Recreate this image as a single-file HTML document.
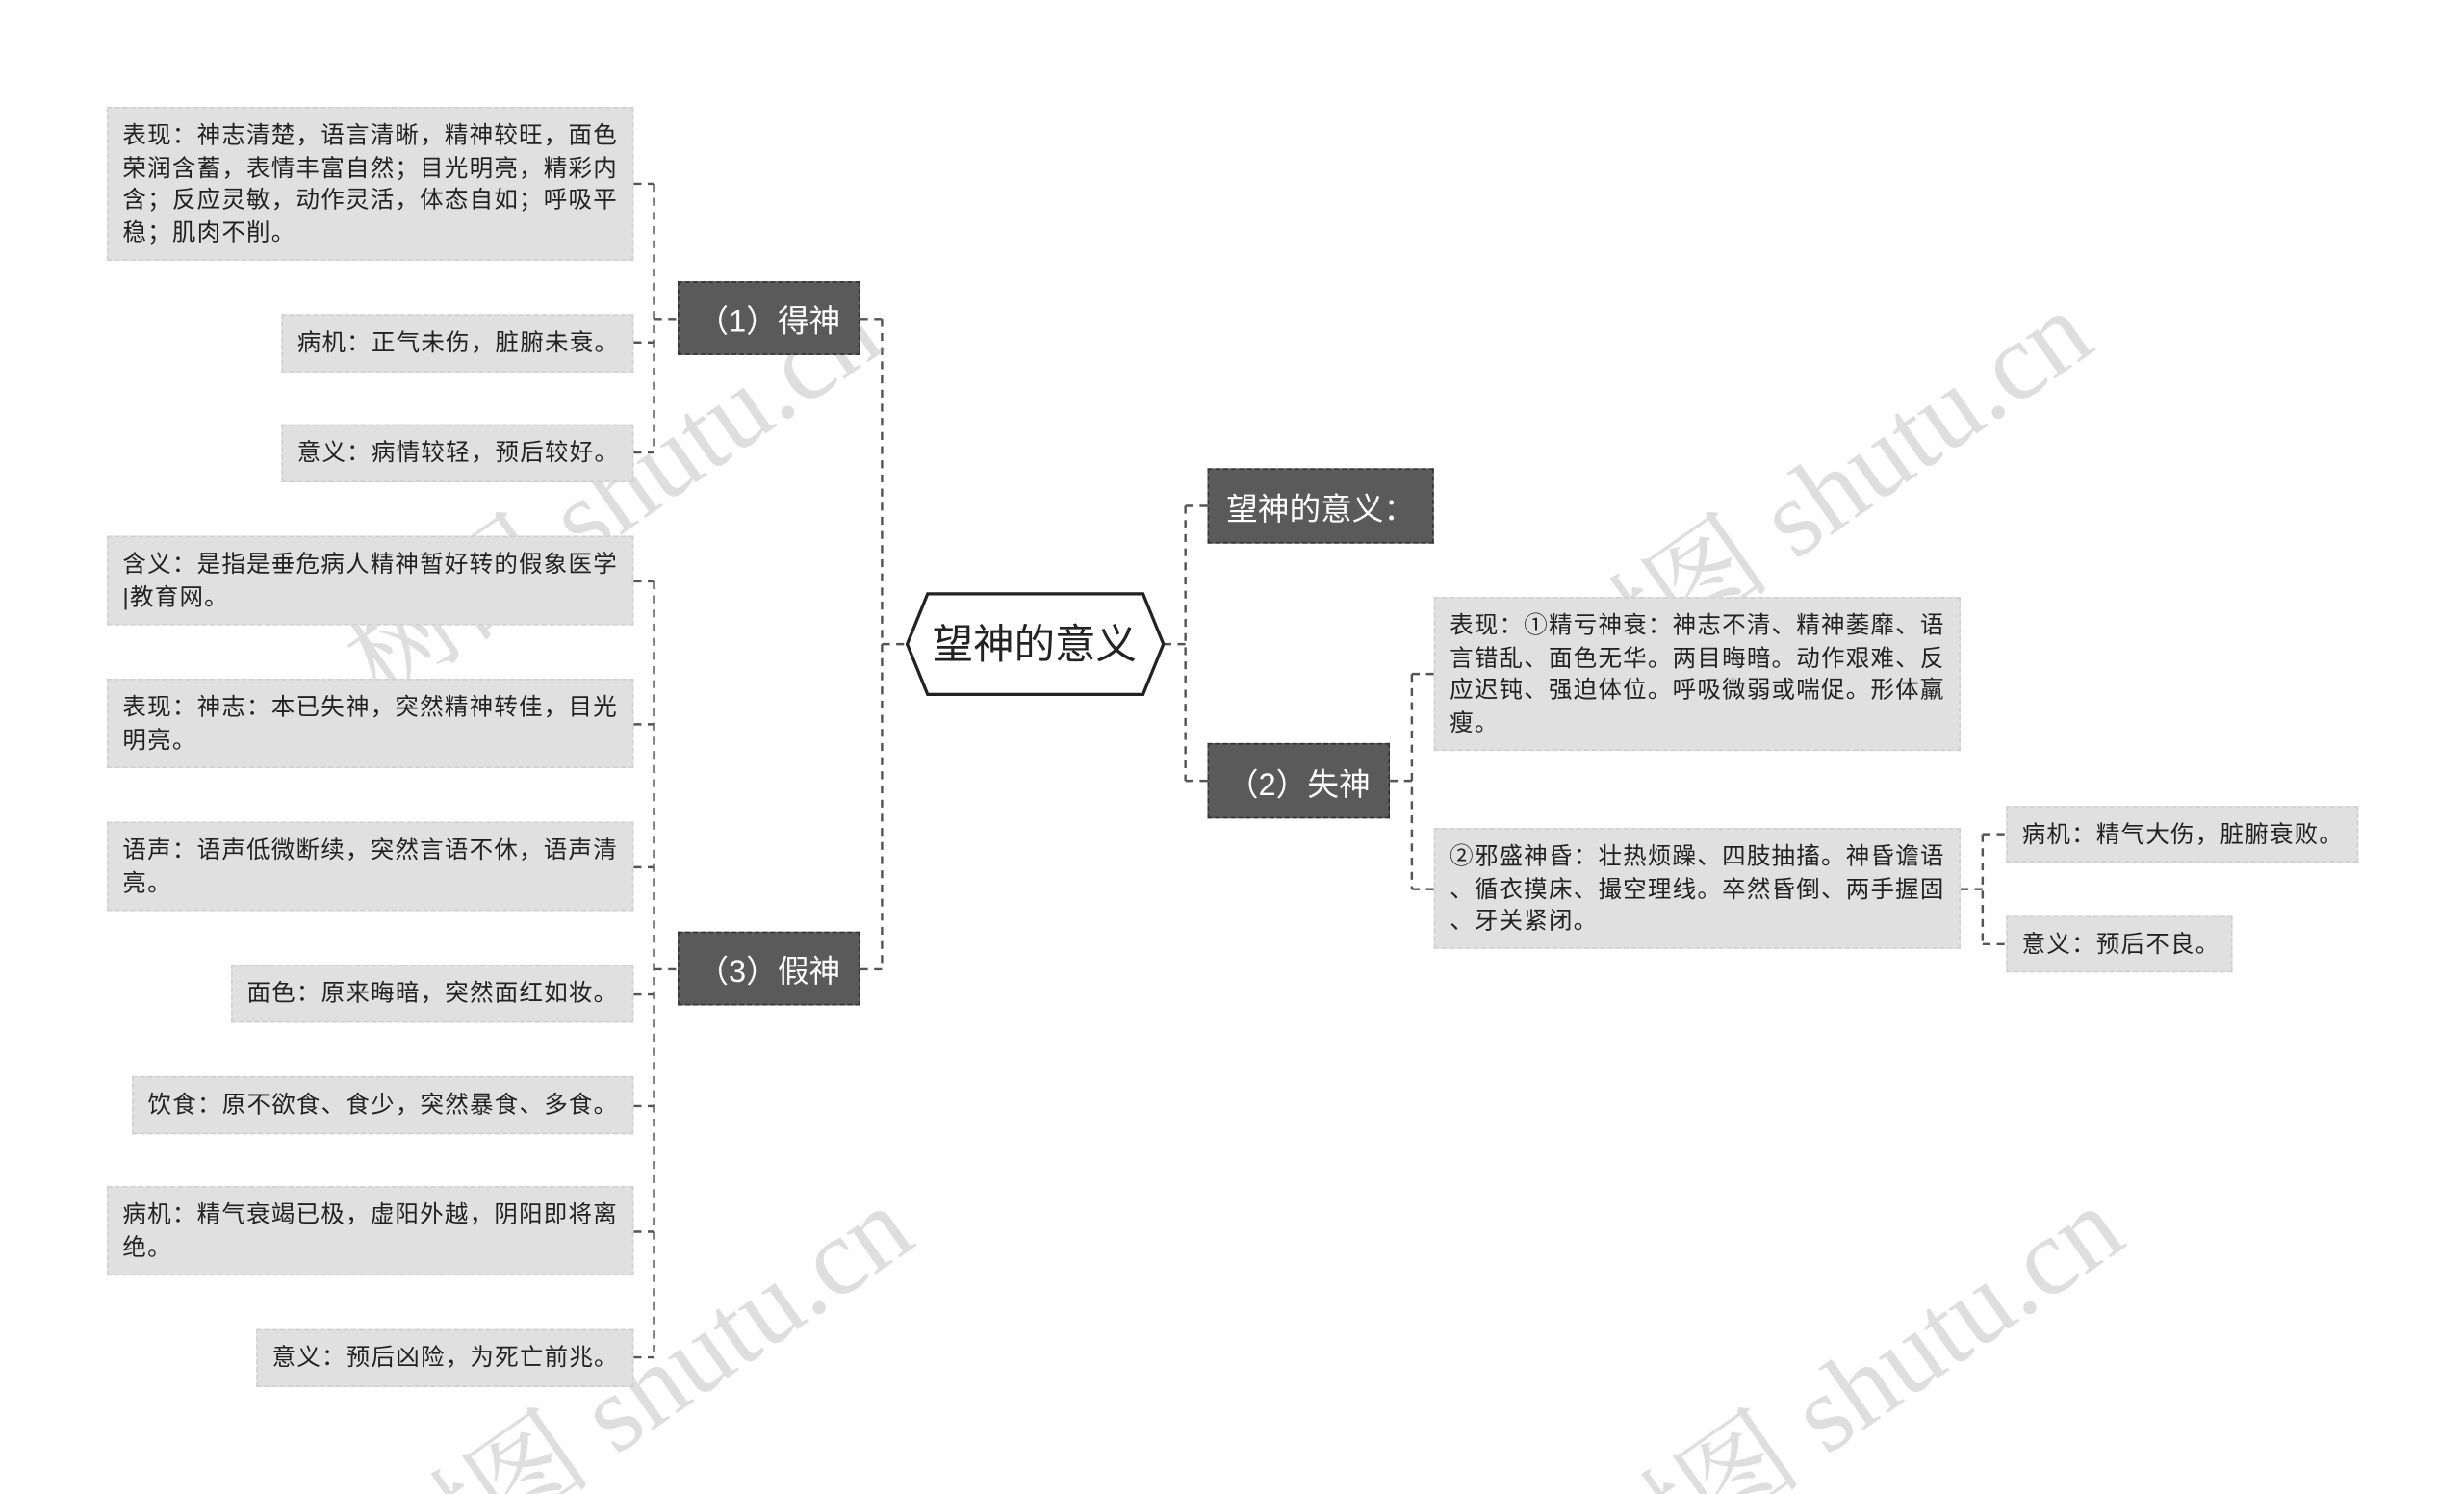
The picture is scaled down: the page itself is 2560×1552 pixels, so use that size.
<!DOCTYPE html>
<html><head><meta charset="utf-8"><style>
html,body{margin:0;padding:0;background:#fff;overflow:hidden;width:2560px;height:1552px}
#wrap{position:relative;width:1560px;height:951px;overflow:hidden;transform-origin:0 0;transform:scale(1.6335,1.6320)}
.b{position:absolute;box-sizing:border-box;background:#e0e0e0;border:1px dashed #cfcfcf;font-family:"Liberation Sans","Noto Sans CJK SC",sans-serif;font-size:15px;letter-spacing:0.75px;line-height:20.5px;color:#222;padding:8px 0 0 9px;white-space:nowrap;overflow:hidden}
.d{position:absolute;box-sizing:border-box;background:#5a5a5a;border:1px dashed #333;color:#fff;font-family:"Liberation Sans","Noto Sans CJK SC",sans-serif;font-size:20px;display:flex;align-items:center;justify-content:center}
.wm{position:absolute;font-family:"Liberation Serif","Noto Serif CJK SC",serif;font-size:70px;color:rgba(160,160,160,0.35);transform:rotate(-35deg);white-space:nowrap}
svg{position:absolute;left:0;top:0}
</style></head><body><div id="wrap">
<svg width="1560" height="951">
<g stroke="#555" stroke-width="1.5" stroke-dasharray="5,4" fill="none">
<path d="M403 117H416M416 117V288M403 218H416M403 288H416M416 203H431"/>
<path d="M403 370H416M416 370V864M403 461H416M403 552H416M403 633H416M403 704H416M403 784H416M403 864H416M416 617H431"/>
<path d="M547 203H561M561 203V617M547 617H561M561 410H577"/>
<path d="M740 410H754M754 322V497M754 322H768M754 497H768"/>
<path d="M884 497H898M898 429V566M898 429H912M898 566H912"/>
<path d="M1247 566H1261M1261 531V601M1261 531H1276M1261 601H1276"/>
</g>
<polygon points="590,378 727,378 740,410 727,442 590,442 577,410" fill="#fff" stroke="#222" stroke-width="2"/>
<text x="658" y="419" text-anchor="middle" font-family="Liberation Sans,Noto Sans CJK SC,sans-serif" font-size="26" fill="#222">望神的意义</text>
</svg>
<div class="wm" style="left:190px;top:260px">树图 shutu.cn</div>
<div class="wm" style="left:960px;top:260px">树图 shutu.cn</div>
<div class="wm" style="left:210px;top:830px">树图 shutu.cn</div>
<div class="wm" style="left:980px;top:830px">树图 shutu.cn</div>

<div class="b" style="left:68px;top:68px;width:335px;height:98px">表现：神志清楚，语言清晰，精神较旺，面色<br>荣润含蓄，表情丰富自然；目光明亮，精彩内<br>含；反应灵敏，动作灵活，体态自如；呼吸平<br>稳；肌肉不削。</div>
<div class="b" style="left:179px;top:200px;width:224px;height:37px">病机：正气未伤，脏腑未衰。</div>
<div class="b" style="left:179px;top:270px;width:224px;height:37px">意义：病情较轻，预后较好。</div>
<div class="d" style="left:431px;top:179px;width:116px;height:47px">（1）得神</div>

<div class="b" style="left:68px;top:341px;width:335px;height:57px">含义：是指是垂危病人精神暂好转的假象医学<br>|教育网。</div>
<div class="b" style="left:68px;top:432px;width:335px;height:57px">表现：神志：本已失神，突然精神转佳，目光<br>明亮。</div>
<div class="b" style="left:68px;top:523px;width:335px;height:57px">语声：语声低微断续，突然言语不休，语声清<br>亮。</div>
<div class="b" style="left:147px;top:614px;width:256px;height:37px">面色：原来晦暗，突然面红如妆。</div>
<div class="b" style="left:84px;top:685px;width:319px;height:37px">饮食：原不欲食、食少，突然暴食、多食。</div>
<div class="b" style="left:68px;top:755px;width:335px;height:57px">病机：精气衰竭已极，虚阳外越，阴阳即将离<br>绝。</div>
<div class="b" style="left:163px;top:846px;width:240px;height:37px">意义：预后凶险，为死亡前兆。</div>
<div class="d" style="left:431px;top:593px;width:116px;height:47px">（3）假神</div>

<div class="d" style="left:768px;top:298px;width:144px;height:48px">望神的意义：</div>
<div class="d" style="left:768px;top:473px;width:116px;height:48px">（2）失神</div>
<div class="b" style="left:912px;top:380px;width:335px;height:98px">表现：①精亏神衰：神志不清、精神萎靡、语<br>言错乱、面色无华。两目晦暗。动作艰难、反<br>应迟钝、强迫体位。呼吸微弱或喘促。形体羸<br>瘦。</div>
<div class="b" style="left:912px;top:527px;width:335px;height:77px">②邪盛神昏：壮热烦躁、四肢抽搐。神昏谵语<br>、循衣摸床、撮空理线。卒然昏倒、两手握固<br>、牙关紧闭。</div>
<div class="b" style="left:1276px;top:513px;width:224px;height:36px">病机：精气大伤，脏腑衰败。</div>
<div class="b" style="left:1276px;top:583px;width:144px;height:36px">意义：预后不良。</div>
</div></body></html>
